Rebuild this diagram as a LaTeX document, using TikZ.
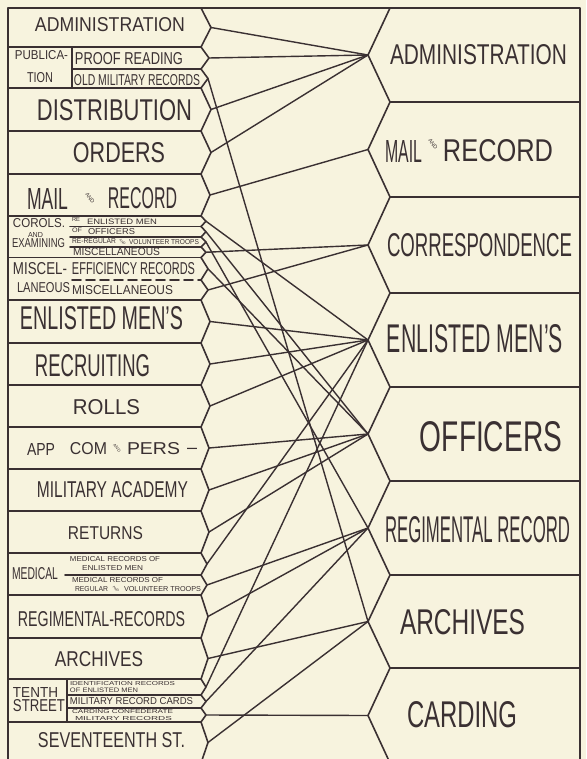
\documentclass[tikz,border=0pt]{standalone}
\usepackage{fontspec}
\setmainfont{Liberation Sans}
\usepackage{graphicx}
\definecolor{paper}{RGB}{247,243,222}
\definecolor{ink}{RGB}{58,48,50}
\tikzset{
  ln/.style={draw=ink, line width=1.6pt, line join=round, line cap=round},
  conn/.style={draw=ink, line width=1.4pt, line cap=round},
  lab/.style={inner sep=0pt, outer sep=0pt, text=ink},
  andlab/.style={inner sep=0pt, outer sep=0pt, text=ink, font=\fontsize{#1}{#1}\selectfont},
}
\newcommand\lbl[6]{\node[lab] (#1) at ({(#2+#4)/2},{(#3+#5)/2}) {\resizebox{\dimexpr#4pt-#2pt\relax}{\dimexpr#5pt-#3pt\relax}{#6}};}
\newcommand\ltip[4]{\coordinate (#1) at (#4,{(#2+#3)/2}); \draw[ln] (201,#2) -- (#1) -- (201,#3);}
\newcommand\rtip[3]{\coordinate (#1) at (368,{(#2+#3)/2}); \draw[ln] (390,#2) -- (#1) -- (390,#3);}
\begin{document}
\begin{tikzpicture}[x=1pt,y=-1pt]
\path[use as bounding box] (0,0) rectangle (586,759);
\fill[paper] (0,0) rectangle (586,759);
\clip (0,0) rectangle (586,759);

% frame
\draw[ln] (8,766) -- (8,8) -- (580,8) -- (580,766);

% left column boundaries
\foreach \y in {47,88,131,174,216,257.5,300,343,385,427,469,511,553,595,638,679,722}
  \draw[ln] (8,\y) -- (201,\y);
% sub dividers
\draw[ln] (72,47) -- (72,88);
\draw[ln] (72,69) -- (201,69);
\foreach \y in {226.5,237,247}
  \draw[ln] (70,\y) -- (201,\y);
\draw[ln, dash pattern=on 9pt off 5pt] (72,280) -- (201,280);
\draw[ln] (65,575) -- (201,575);
\draw[ln] (67,679) -- (67,722);
\draw[ln] (67,695) -- (201,695);
\draw[ln] (67,708) -- (201,708);

% left tips
\ltip{L1}{8}{47}{211}
\ltip{L2a}{47}{69}{209}
\ltip{L2b}{69}{88}{208}
\ltip{L3}{88}{131}{211}
\ltip{L4}{131}{174}{211}
\ltip{L5}{174}{216}{210}
\ltip{L6a}{216}{226.5}{206}
\ltip{L6b}{226.5}{237}{206}
\ltip{L6c}{237}{247}{206}
\ltip{L6d}{247}{257.5}{206}
\ltip{L7a}{257.5}{280}{208}
\ltip{L7b}{280}{300}{208}
\ltip{L8}{300}{343}{210}
\ltip{L9}{343}{385}{210}
\ltip{L10}{385}{427}{210}
\ltip{L11}{427}{469}{209}
\ltip{L12}{469}{511}{209}
\ltip{L13}{511}{553}{209}
\ltip{L14a}{553}{575}{207}
\ltip{L14b}{575}{595}{207}
\ltip{L15}{595}{638}{208}
\ltip{L16}{638}{679}{208}
\ltip{L17a}{679}{695}{206}
\ltip{L17b}{695}{708}{206}
\ltip{L17c}{708}{722}{206}
\ltip{L18}{722}{763}{208}

% right column
\foreach \y in {102,197,293,387,481,575,668}
  \draw[ln] (390,\y) -- (580,\y);
\rtip{R1}{8}{102}
\rtip{R2}{102}{197}
\rtip{R3}{197}{293}
\rtip{R4}{293}{387}
\rtip{R5}{387}{481}
\rtip{R6}{481}{575}
\rtip{R7}{575}{668}
\rtip{R8}{668}{763}

% connectors
\draw[conn] (L1) -- (R1);
\draw[conn] (L2a) -- (R1);
\draw[conn] (L3) -- (R1);
\draw[conn] (L4) -- (R1);
\draw[conn] (L5) -- (R2);
\draw[conn] (L6d) -- (R3);
\draw[conn] (L7b) -- (R3);
\draw[conn] (L6a) -- (R4);
\draw[conn] (L8) -- (R4);
\draw[conn] (L9) -- (R4);
\draw[conn] (L10) -- (R4);
\draw[conn] (L14a) -- (R4);
\draw[conn] (L17a) -- (R4);
\draw[conn] (L6b) -- (R5);
\draw[conn] (L7a) -- (R5);
\draw[conn] (L11) -- (R5);
\draw[conn] (L12) -- (R5);
\draw[conn] (L13) -- (R5);
\draw[conn] (L6c) -- (R6);
\draw[conn] (L14b) -- (R6);
\draw[conn] (L15) -- (R6);
\draw[conn] (L17b) -- (R6);
\draw[conn] (L2b) -- (R7);
\draw[conn] (L16) -- (R7);
\draw[conn] (L18) -- (R7);
\draw[conn] (L17c) -- (R8);

% left labels
\lbl{tA1}{35}{18}{185}{32}{ADMINISTRATION}
\lbl{tP1}{15}{51}{68}{60}{PUBLICA-}
\lbl{tP2}{27}{73}{53}{83}{TION}
\lbl{tPR}{75}{53}{183}{65}{PROOF READING}
\lbl{tOM}{74}{75}{200}{86}{OLD MILITARY RECORDS}
\lbl{tDI}{37}{100}{192}{121}{DISTRIBUTION}
\lbl{tOR}{73}{143}{165}{163}{ORDERS}
\lbl{tM1}{27}{188}{68}{209}{MAIL}
\node[andlab=5.5,rotate=-55] (tMa) at (90,198) {AND};
\lbl{tM2}{108}{188}{177}{209}{RECORD}
\lbl{tC1}{13}{219}{65}{228}{COROLS.}
\lbl{tC2}{28}{232}{43}{237}{AND}
\lbl{tC3}{12}{239}{65}{248}{EXAMINING}
\lbl{tC4}{72}{218}{80}{222}{RE}
\lbl{tC5}{87}{219}{157}{224.5}{ENLISTED MEN}
\lbl{tC6}{72}{228.5}{82}{233}{OF}
\lbl{tC7}{88}{229}{135}{235}{OFFICERS}
\lbl{tC8}{72}{239}{116}{244}{RE-REGULAR}
\node[andlab=3.4,rotate=-40] (tC9) at (122.5,242) {AND};
\lbl{tC10}{129}{239.5}{199}{244.5}{VOLUNTEER TROOPS}
\lbl{tC11}{73}{248.5}{160}{256}{MISCELLANEOUS}
\lbl{tMi1}{13}{263}{67}{275}{MISCEL-}
\lbl{tMi2}{17}{283}{70}{293}{LANEOUS}
\lbl{tMi3}{72}{263}{195}{275}{EFFICIENCY RECORDS}
\lbl{tMi4}{72}{286}{173}{295}{MISCELLANEOUS}
\lbl{tEM}{20}{307}{183}{330}{ENLISTED MEN'S}
\lbl{tRE}{35}{355}{150}{377}{RECRUITING}
\lbl{tRO}{73}{400}{140}{415}{ROLLS}
\lbl{tAP1}{27}{443}{55}{455}{APP}
\lbl{tAP2}{70}{443}{107}{455}{COM}
\node[andlab=4.3,rotate=-50] (tAP3) at (117,448) {AND};
\lbl{tAP4}{127}{443}{180}{455}{PERS}
\node[lab] (tAP5) at (192,451) {\resizebox{10pt}{!}{–}};
\lbl{tMA}{37}{482}{188}{498}{MILITARY ACADEMY}
\lbl{tRT}{68}{527}{143}{540}{RETURNS}
\lbl{tMe1}{70}{557}{160}{562}{MEDICAL RECORDS OF}
\lbl{tMe2}{82}{566}{143}{571}{ENLISTED MEN}
\lbl{tMe3}{12}{568}{58}{580}{MEDICAL}
\lbl{tMe4}{72}{578}{163}{583}{MEDICAL RECORDS OF}
\lbl{tMe5}{75}{587}{108}{592}{REGULAR}
\node[andlab=3.4,rotate=-40] (tMe6) at (116,589) {AND};
\lbl{tMe7}{124}{587}{201}{592}{VOLUNTEER TROOPS}
\lbl{tRG}{18}{612}{185}{627}{REGIMENTAL-RECORDS}
\lbl{tAR}{55}{652}{143}{667}{ARCHIVES}
\lbl{tT1}{13}{687}{58}{697}{TENTH}
\lbl{tT2}{13}{700}{65}{712}{STREET}
\lbl{tT3}{70}{682}{175}{686}{IDENTIFICATION RECORDS}
\lbl{tT4}{70}{688}{138}{692.5}{OF ENLISTED MEN}
\lbl{tT5}{70}{698}{193}{705}{MILITARY RECORD CARDS}
\lbl{tT6}{72}{710}{173}{714}{CARDING CONFEDERATE}
\lbl{tT7}{75}{716.5}{172}{720.5}{MILITARY RECORDS}
\lbl{tSV}{38}{733}{185}{748}{SEVENTEENTH ST.}

% right labels
\lbl{rA}{390}{45}{567}{65}{ADMINISTRATION}
\lbl{rM1}{385}{140}{422}{162}{MAIL}
\node[andlab=5.5,rotate=-55] (rMa) at (433,144) {AND};
\lbl{rM2}{443}{140}{553}{162}{RECORD}
\lbl{rC}{387}{234}{572}{257}{CORRESPONDENCE}
\lbl{rE}{387}{325}{563}{353}{ENLISTED MEN'S}
\lbl{rO}{420}{422}{562}{452}{OFFICERS}
\lbl{rR}{385}{517}{570}{543}{REGIMENTAL RECORD}
\lbl{rAr}{400}{610}{525}{635}{ARCHIVES}
\lbl{rCa}{407}{702}{517}{728}{CARDING}
\end{tikzpicture}
\end{document}
